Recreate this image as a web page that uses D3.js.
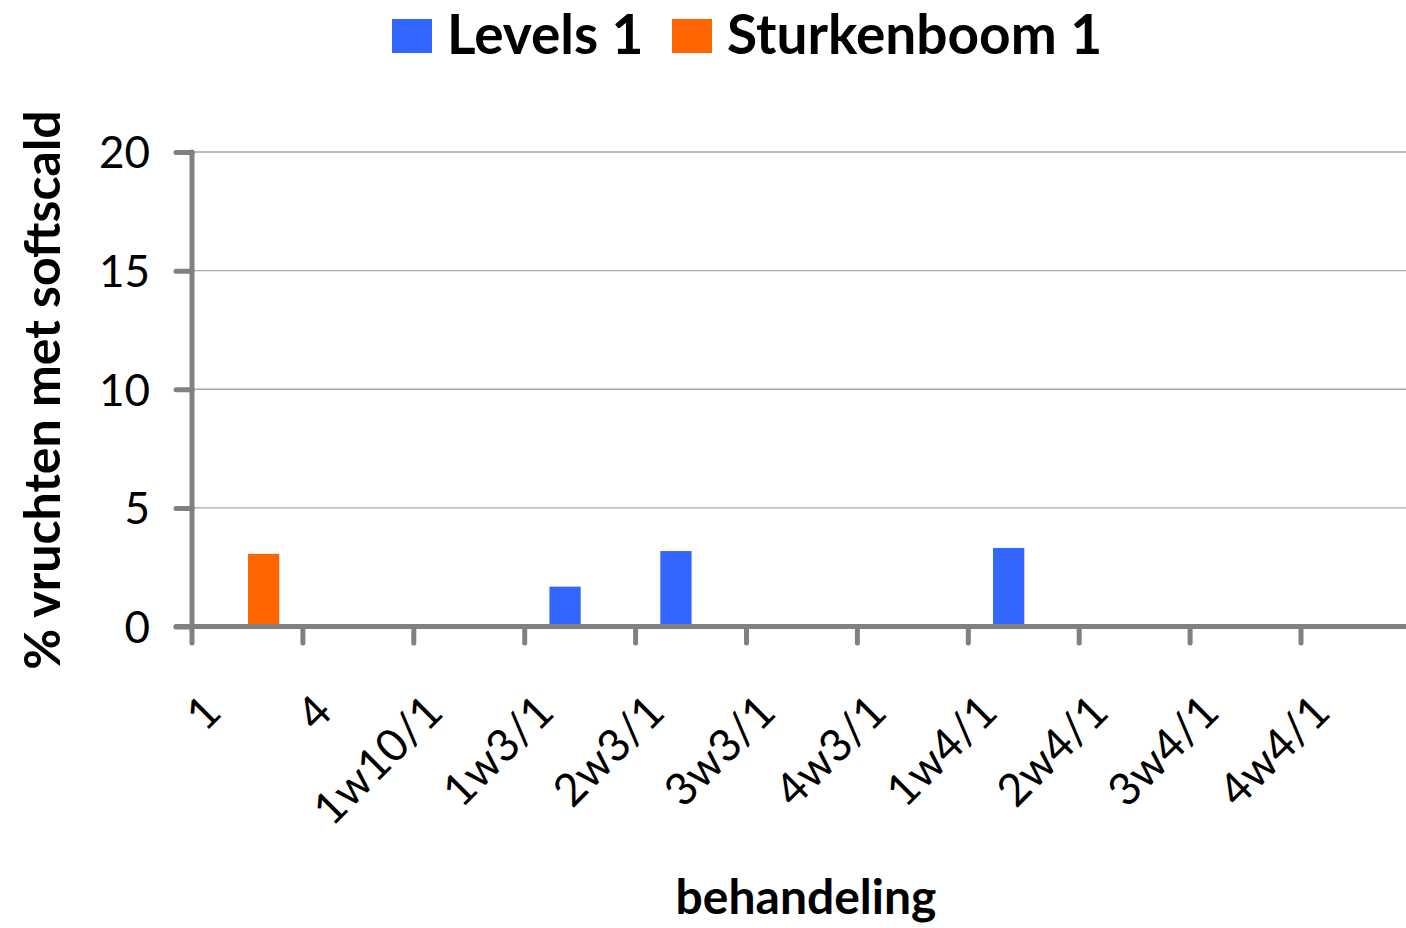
<!DOCTYPE html>
<html>
<head>
<meta charset="utf-8">
<script src="https://cdn.jsdelivr.net/npm/d3@7"></script>
<style>
  html, body { margin: 0; padding: 0; background: #fff; }
  svg { display: block; }
</style>
</head>
<body>
<svg id="chart" width="1406" height="928"></svg>
<script>
const categories = ["1", "4", "1w10/1", "1w3/1", "2w3/1", "3w3/1", "4w3/1", "1w4/1", "2w4/1", "3w4/1", "4w4/1"];
const seriesNames = ["Levels 1", "Sturkenboom 1"];
const levels1 = [0, 0, 0, 1.68, 3.18, 0, 0, 3.31, 0, 0, 0];
const sturkenboom1 = [3.06, 0, 0, 0, 0, 0, 0, 0, 0, 0, 0];
const yTicks = [0, 5, 10, 15, 20];
const colors = ["#3366FF", "#FF6600"];

const svg = d3.select("#chart");
const W = 1406, H = 928;
const plotLeft = 192, bandW = 110.9;
const plotRight = plotLeft + bandW * categories.length;
const fontFam = "Lato, 'Open Sans', sans-serif";

const x = d3.scaleBand().domain(categories).range([plotLeft, plotRight]).padding(0);
const x1 = d3.scaleBand().domain(seriesNames).range([x.bandwidth() * 0.223, x.bandwidth() * 0.787]).padding(0);
const y = d3.scaleLinear().domain([0, 20]).range([626.5, 152]);

const axisColor = "#808080";

// gridlines
svg.append("g").selectAll("line").data(yTicks.filter(d => d > 0)).join("line")
  .attr("x1", plotLeft).attr("x2", W)
  .attr("y1", d => y(d)).attr("y2", d => y(d))
  .attr("stroke", "#a6a6a6").attr("stroke-width", 1.4);

// bars
const data = categories.map((c, i) => ({ cat: c, values: [levels1[i], sturkenboom1[i]] }));
const groups = svg.append("g").selectAll("g").data(data).join("g")
  .attr("transform", d => `translate(${x(d.cat)},0)`);
groups.selectAll("rect").data(d => d.values.map((v, j) => ({ s: seriesNames[j], v, j })).filter(e => e.v > 0))
  .join("rect")
  .attr("x", e => x1(e.s))
  .attr("width", x1.bandwidth())
  .attr("y", e => y(e.v))
  .attr("height", e => y(0) - y(e.v))
  .attr("fill", e => colors[e.j]);

// y axis
const yAxis = d3.axisLeft(y).tickValues(yTicks).tickSize(16).tickPadding(26).tickFormat(d3.format("d"));
const gy = svg.append("g").attr("transform", `translate(${plotLeft},0)`).call(yAxis);
gy.select(".domain").remove();
gy.selectAll(".tick line").attr("stroke", axisColor).attr("stroke-width", 5).attr("stroke-linecap", "round");
gy.selectAll(".tick text").attr("font-family", fontFam).attr("font-size", 44)
  .attr("fill", "#000").attr("dy", "0.36em");
gy.append("line").attr("x1", 0).attr("x2", 0).attr("y1", y(20)).attr("y2", 643)
  .attr("stroke", axisColor).attr("stroke-width", 5).attr("stroke-linecap", "round");

// x axis
const xAxis = d3.axisBottom(x).tickSize(0).tickFormat(d => d);
const gx = svg.append("g").attr("transform", `translate(0,${y(0)})`).call(xAxis);
gx.select(".domain").remove();
gx.selectAll(".tick line").remove();
gx.append("line").attr("x1", 176).attr("x2", W + 10).attr("y1", 0).attr("y2", 0)
  .attr("stroke", axisColor).attr("stroke-width", 5).attr("stroke-linecap", "round");
const boundaries = categories.map(c => x(c)).concat([plotRight]);
gx.append("g").selectAll("line").data(boundaries.slice(1)).join("line")
  .attr("x1", d => d).attr("x2", d => d).attr("y1", 0).attr("y2", 16.5)
  .attr("stroke", axisColor).attr("stroke-width", 5).attr("stroke-linecap", "round");
gx.selectAll(".tick text")
  .attr("font-family", fontFam).attr("font-size", 45).attr("fill", "#000")
  .attr("text-anchor", "end").attr("y", 0).attr("dy", 0)
  .attr("transform", `translate(-24,88) rotate(-45)`);

// axis titles
svg.append("text").attr("x", 806).attr("y", 914).attr("text-anchor", "middle")
  .attr("font-family", fontFam).attr("font-weight", "bold").attr("font-size", 48)
  .text("behandeling");
svg.append("text").attr("transform", `translate(60,390) rotate(-90)`).attr("text-anchor", "middle")
  .attr("font-family", fontFam).attr("font-weight", "bold").attr("font-size", 50)
  .text("% vruchten met softscald");

// legend
const legendPos = [{ sx: 392, tx: 447 }, { sx: 672, tx: 727 }];
const lg = svg.append("g").selectAll("g").data(seriesNames).join("g");
lg.append("rect").attr("x", (d, i) => legendPos[i].sx).attr("y", 19).attr("width", 40).attr("height", 34)
  .attr("fill", (d, i) => colors[i]);
lg.append("text").attr("x", (d, i) => legendPos[i].tx).attr("y", 54)
  .attr("font-family", fontFam).attr("font-weight", "bold").attr("font-size", 55)
  .attr("fill", "#000").text(d => d);
</script>
</body>
</html>
